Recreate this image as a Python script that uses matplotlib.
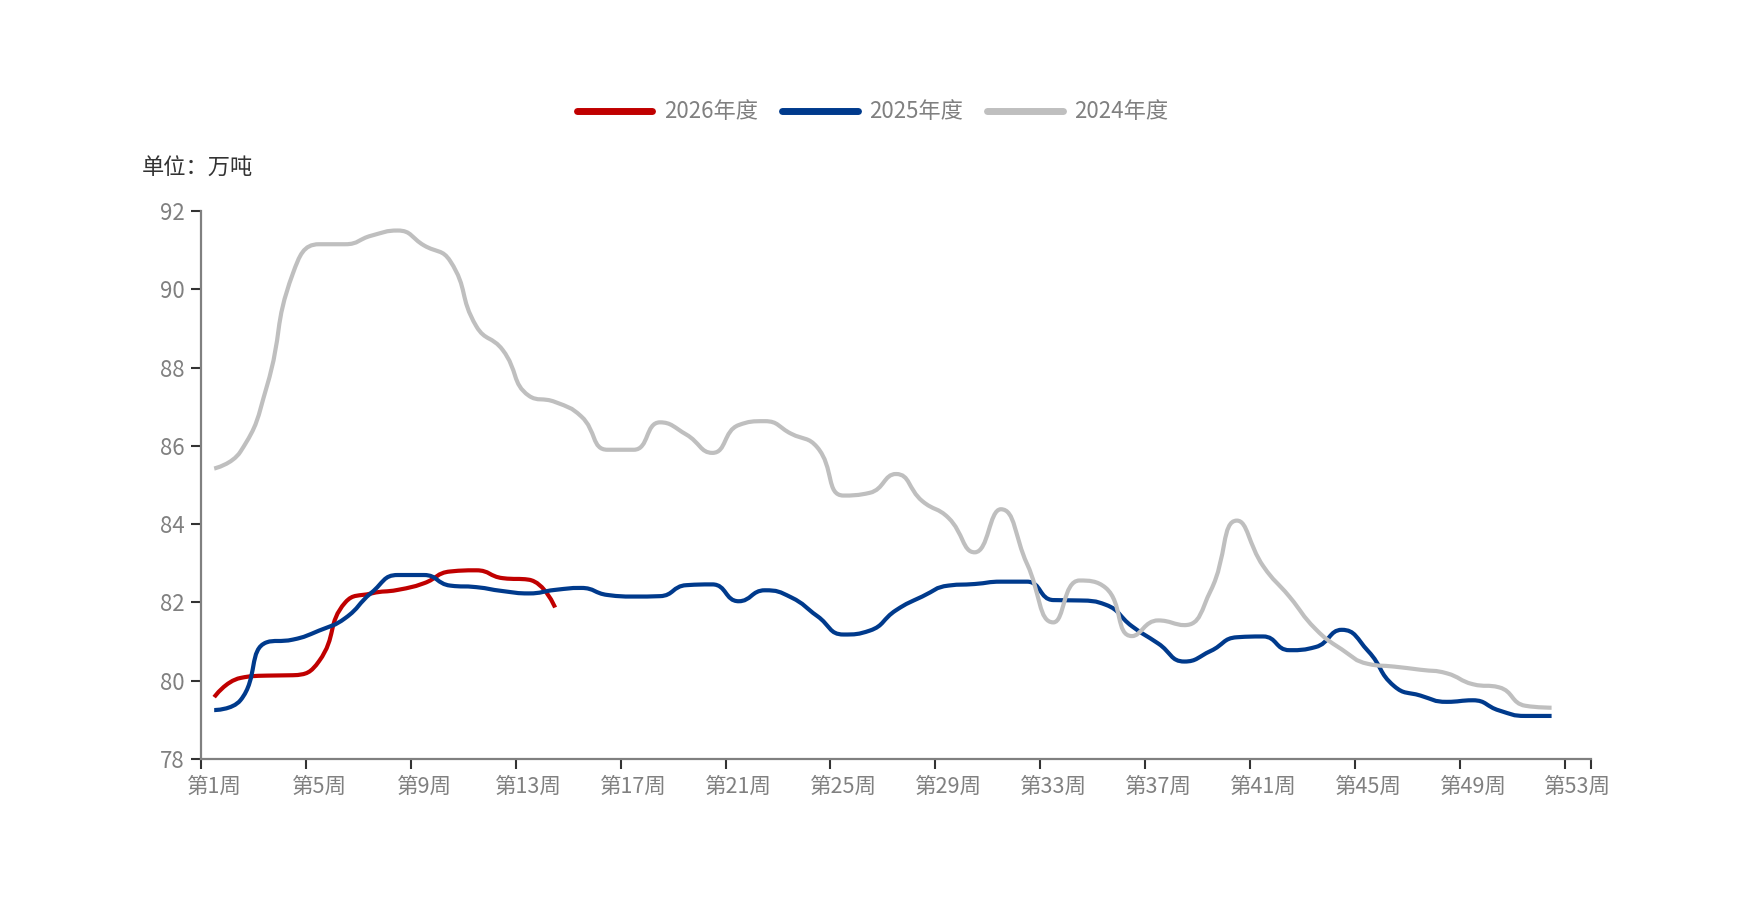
import numpy as np
import matplotlib
matplotlib.use('Agg')
import matplotlib.pyplot as plt
from matplotlib.path import Path
from matplotlib.patches import PathPatch
from matplotlib.lines import Line2D

plt.rcParams['font.family'] = ['Noto Sans CJK SC', 'DejaVu Sans']

# categories: 53 weeks
weeks = [f'第{i}周' for i in range(1, 54)]

# 2026 season (14 weeks so far)
y2026 = [79.58, 80.07, 80.13, 80.14, 80.5, 82.0, 82.23, 82.32, 82.49, 82.79,
         82.82, 82.62, 82.58, 81.87]

# 2025 season
y2025 = [79.25, 79.5, 80.98, 81.05, 81.28, 81.6, 82.25, 82.7, 82.7, 82.43,
         82.39, 82.29, 82.23, 82.32, 82.37, 82.19, 82.15, 82.16, 82.44, 82.46,
         82.03, 82.31, 82.13, 81.65, 81.18, 81.28, 81.8, 82.15, 82.43, 82.47,
         82.53, 82.53, 82.06, 82.05, 81.94, 81.39, 80.95, 80.49, 80.76, 81.11,
         81.13, 80.78, 80.86, 81.3, 80.76, 79.86, 79.62, 79.46, 79.5, 79.24,
         79.1, 79.1]

# 2024 season
y2024 = [85.42, 85.85, 87.5, 90.4, 91.15, 91.15, 91.37, 91.5, 91.12, 90.72,
         89.05, 88.45, 87.28, 87.12, 86.75, 85.9, 85.9, 86.6, 86.29, 85.82,
         86.53, 86.63, 86.31, 85.96, 84.73, 84.8, 85.28, 84.59, 84.16, 83.28,
         84.38, 82.98, 81.49, 82.56, 82.37, 81.14, 81.54, 81.42, 82.3, 84.09,
         82.93, 82.15, 81.32, 80.8, 80.43, 80.36, 80.28, 80.19, 79.91, 79.83,
         79.36, 79.31]

series = [('2026年度', y2026, '#C00000'),
          ('2025年度', y2025, '#003A8C'),
          ('2024年度', y2024, '#BFBFBF')]

yticks = [78, 80, 82, 84, 86, 88, 90, 92]

axis_grey = '#808080'
text_grey = '#808080'
tick_dark = '#333333'


def smooth_path(ax, xs, ys, smooth=0.5):
    # constrained bezier smoothing in pixel space (same idea as echarts smooth line)
    pts = ax.transData.transform(np.column_stack([xs, ys]))
    n = len(pts)
    verts = [pts[0]]
    codes = [Path.MOVETO]
    cp0 = pts[0].copy()
    for k in range(1, n):
        x, y = pts[k]
        px, py = pts[k - 1]
        if k == n - 1:
            cp1 = np.array([x, y])
            ncp0 = cp1
        else:
            nx, ny = pts[k + 1]
            vx, vy = nx - px, ny - py
            lp = np.hypot(x - px, y - py)
            ln = np.hypot(nx - x, ny - y)
            r = ln / (ln + lp)
            ncx = x + vx * smooth * r
            ncy = y + vy * smooth * r
            ncx = max(min(ncx, max(nx, x)), min(nx, x))
            ncy = max(min(ncy, max(ny, y)), min(ny, y))
            vx, vy = ncx - x, ncy - y
            c1x = x - vx * lp / ln
            c1y = y - vy * lp / ln
            c1x = max(min(c1x, max(px, x)), min(px, x))
            c1y = max(min(c1y, max(py, y)), min(py, y))
            vx, vy = x - c1x, y - c1y
            ncx = x + vx * ln / lp
            ncy = y + vy * ln / lp
            cp1 = np.array([c1x, c1y])
            ncp0 = np.array([ncx, ncy])
        verts += [cp0, cp1, np.array([x, y])]
        codes += [Path.CURVE4] * 3
        cp0 = ncp0
    verts = ax.transData.inverted().transform(np.array(verts))
    return Path(verts, codes)


fig = plt.figure(figsize=(17.5, 9.18), dpi=100)
ax = fig.add_axes([0.1149, 0.1732, 0.7942, 0.5970])
ax.set_xlim(0, len(weeks))
ax.set_ylim(78, 92)

for z, (name, vals, col) in enumerate(series):
    xs = np.arange(len(vals)) + 0.5
    p = smooth_path(ax, xs, vals)
    ax.add_patch(PathPatch(p, fill=False, edgecolor=col, lw=3,
                           joinstyle='round', capstyle='butt', zorder=2 + z))

# axes styling
for s in ['top', 'right']:
    ax.spines[s].set_visible(False)
for s in ['left', 'bottom']:
    ax.spines[s].set_color(axis_grey)
    ax.spines[s].set_linewidth(1.6)

ax.set_yticks(yticks)
ax.set_yticklabels([str(v) for v in yticks])
ax.tick_params(axis='y', direction='out', length=7, width=1.5, color=tick_dark,
               labelcolor=text_grey, labelsize=16, pad=5)

major = list(range(0, len(weeks), 4)) + [len(weeks)]
ax.set_xticks(major)
ax.set_xticklabels([])
minor = [i + 0.5 for i in range(0, len(weeks), 4)]
ax.set_xticks(minor, minor=True)
ax.set_xticklabels([weeks[i] for i in range(0, len(weeks), 4)], minor=True)
ax.tick_params(axis='x', which='major', direction='out', length=7, width=1.5,
               color=tick_dark)
ax.tick_params(axis='x', which='minor', length=0, labelcolor=text_grey,
               labelsize=15.5, pad=12)

fig.text(142 / 1750, 1 - 168 / 918, '单位：万吨', fontsize=16, color='#333333',
         ha='left', va='center')

handles = [Line2D([0], [0], color=c, lw=5, solid_capstyle='round') for _, _, c in series]
leg = fig.legend(handles, [n for n, _, _ in series], loc='center',
                 bbox_to_anchor=(0.4985, 1 - 112 / 918), ncol=3, frameon=False,
                 fontsize=16, handlelength=3.4, handletextpad=0.5,
                 columnspacing=1.1)
for t in leg.get_texts():
    t.set_color(text_grey)

fig.savefig('out.png', dpi=100)
